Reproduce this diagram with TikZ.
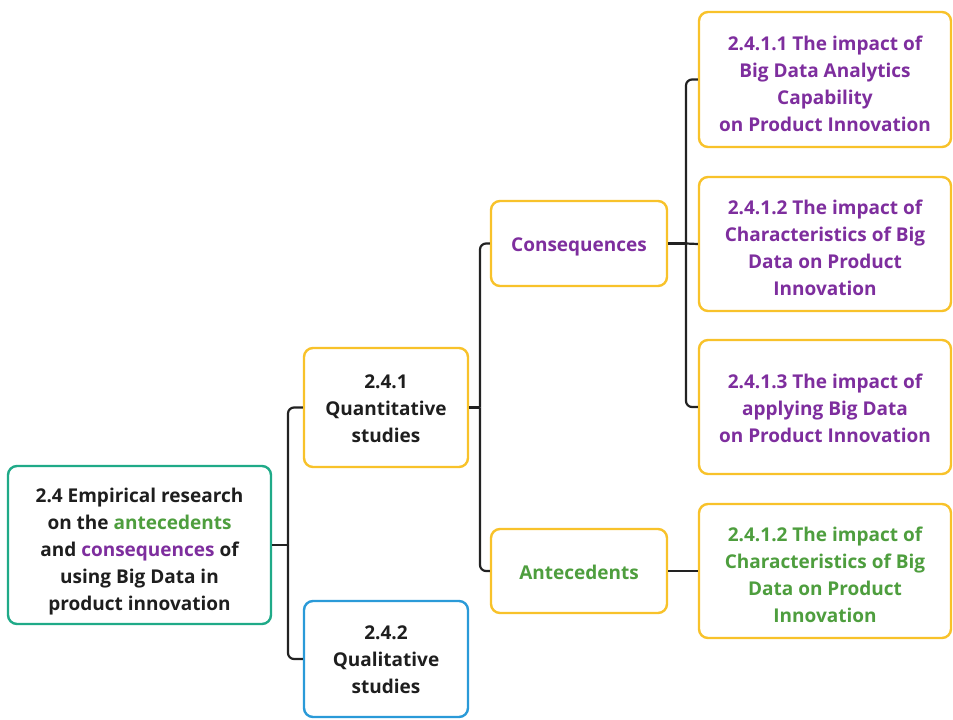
\documentclass[tikz,border=0pt]{standalone}
\usepackage{fontspec}
\setmainfont{Open Sans}
\definecolor{boxgreen}{HTML}{1FAA88}
\definecolor{boxyellow}{HTML}{F8C22A}
\definecolor{boxblue}{HTML}{2A9AD8}
\definecolor{txtpurple}{HTML}{7E2E9E}
\definecolor{txtgreen}{HTML}{4E9E3E}
\definecolor{txtdark}{HTML}{1E1E1E}
\definecolor{linedark}{HTML}{222222}
\begin{document}
\begin{tikzpicture}[x=1pt,y=-1pt,
  every node/.style={font=\fontsize{19}{27}\selectfont\bfseries, align=center, text=txtdark},
  box/.style={draw, line width=2.4pt, rounded corners=9pt, fill=white, inner sep=0pt},
  ybox/.style={box, draw=boxyellow},
  txt/.style={inner sep=0pt, text=#1},
  conn/.style={draw=linedark, line width=2.2pt, rounded corners=6pt}]
\useasboundingbox (0,0) rectangle (953,720);
\fill[white] (0,0) rectangle (953,720);

% tree nodes (text is set as a centred label, nudged down a little)
\node[box, draw=boxgreen, minimum width=263pt, minimum height=158pt,
  label={[txt=txtdark, yshift=-7pt]center:{2.4 Empirical research\\on the \textcolor{txtgreen}{antecedents}\\and \textcolor{txtpurple}{consequences} of\\using Big Data in\\product innovation}}]
  (root) at (139.5,545) {};
\node[ybox, minimum width=164pt, minimum height=119pt,
  label={[txt=txtdark, yshift=-1pt]center:{2.4.1\\Quantitative\\studies}}]
  (quant) at (386,407.5) {};
\node[box, draw=boxblue, minimum width=164pt, minimum height=116pt,
  label={[txt=txtdark, yshift=-1pt]center:{2.4.2\\Qualitative\\studies}}]
  (qual) at (386,659) {};
\node[ybox, minimum width=176pt, minimum height=85pt,
  label={[txt=txtpurple, yshift=-3pt]center:{Consequences}}]
  (cons) at (579,243.5) {};
\node[ybox, minimum width=176pt, minimum height=84pt,
  label={[txt=txtgreen, yshift=-1pt]center:{Antecedents}}]
  (ante) at (579,571) {};
\node[ybox, minimum width=252pt, minimum height=135pt,
  label={[txt=txtpurple, yshift=-4pt]center:{2.4.1.1 The impact of\\Big Data Analytics\\Capability\\on Product Innovation}}]
  (c1) at (825,79.5) {};
\node[ybox, minimum width=252pt, minimum height=134pt,
  label={[txt=txtpurple, yshift=-4pt]center:{2.4.1.2 The impact of\\Characteristics of Big\\Data on Product\\Innovation}}]
  (c2) at (825,244) {};
\node[ybox, minimum width=252pt, minimum height=134pt,
  label={[txt=txtpurple, yshift=-1pt]center:{2.4.1.3 The impact of\\applying Big Data\\on Product Innovation}}]
  (c3) at (825,407) {};
\node[ybox, minimum width=252pt, minimum height=134pt,
  label={[txt=txtgreen, yshift=-4pt]center:{2.4.1.2 The impact of\\Characteristics of Big\\Data on Product\\Innovation}}]
  (a1) at (825,571) {};

% junction points of the brackets
\coordinate (jroot) at (288,545);
\coordinate (jquant) at (480,407.5);
\coordinate (jcons) at (686,243.5);

% connectors
\draw[conn] (root.east) -- (jroot);
\draw[conn] (jroot) |- (quant.west);
\draw[conn] (jroot) |- (qual.west);
\draw[conn] (quant.east) -- (jquant);
\draw[conn] (jquant) |- (cons.west);
\draw[conn] (jquant) |- (ante.west);
\draw[conn] (cons.east) -- (jcons);
\draw[conn] (jcons) |- (c1.west);
\draw[conn] (jcons) -- (c2.west);
\draw[conn] (jcons) |- (c3.west);
\draw[conn] (ante.east) -- (a1.west);
\end{tikzpicture}
\end{document}
